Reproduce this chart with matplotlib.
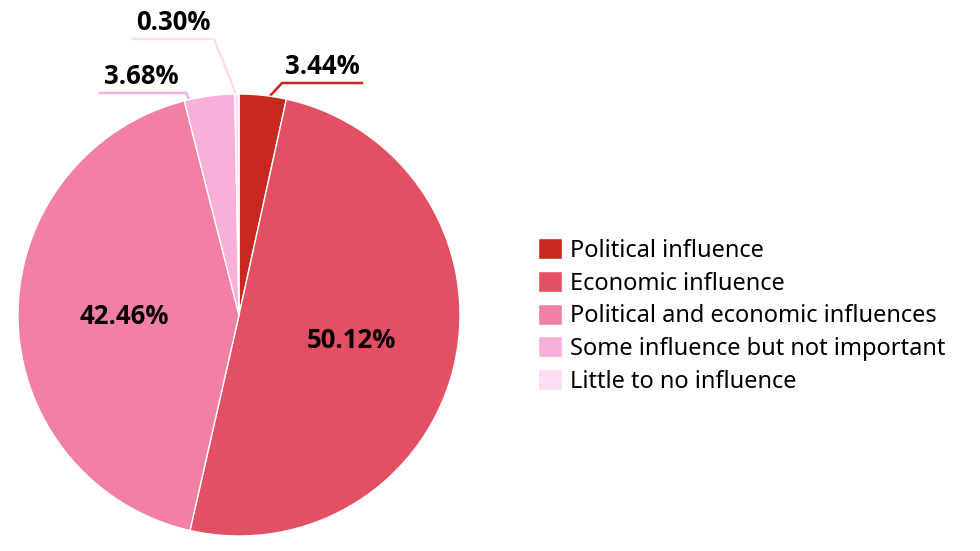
import matplotlib
matplotlib.use("Agg")
import matplotlib.pyplot as plt
import numpy as np

plt.rcParams['font.family'] = ['Open Sans', 'DejaVu Sans']

categories = ["Political influence", "Economic influence",
              "Political and economic influences",
              "Some influence but not important", "Little to no influence"]
shares = [3.44, 50.12, 42.46, 3.68, 0.30]
colors = ["#c8281f", "#e35064", "#f27fa4", "#f8afd9", "#fcdcf6"]

W, H = 980, 551
fig = plt.figure(figsize=(W / 100, H / 100), dpi=100)

# pie centre (239, 315) px, radius 221 px
cx, cy, r = 239, 315, 221
ax = fig.add_axes([(cx - r) / W, (H - cy - r) / H, 2 * r / W, 2 * r / H])
wedges, _ = ax.pie(shares, colors=colors, startangle=90, counterclock=False,
                   radius=1, wedgeprops=dict(edgecolor="white", linewidth=1))
ax.set_xlim(-1, 1)
ax.set_ylim(-1, 1)
ax.axis("off")


def px(x, y):
    # pixel position -> pie units
    return (x - cx) / r, (cy - y) / r


def mid_angle(w):
    return np.deg2rad((w.theta1 + w.theta2) / 2)


# labels inside the two big slices
for i in (1, 2):
    a = mid_angle(wedges[i])
    ax.text(0.52 * np.cos(a), 0.52 * np.sin(a), f"{shares[i]:.2f}%",
            ha="center", va="center", fontsize=18.5, fontweight="bold", color="black")

# outside labels: (start x px on rim, elbow px, line end x px, text centre x px)
outside = {0: (268, (282, 83), 362, 322),
           3: (190, (186, 93), 100, 141),
           4: (237, (214, 39), 133, 173)}
for i, (sxp, elbow, xend, xt) in outside.items():
    sx, _ = px(sxp, 0)
    sy = 0.99 * np.sqrt(1 - sx ** 2)
    ex, ey = px(*elbow)
    fx, _ = px(xend, elbow[1])
    ax.plot([sx, ex, fx], [sy, ey, ey], color=colors[i], lw=1.8,
            solid_joinstyle="miter", clip_on=False, zorder=0)
    tx, _ = px(xt, 0)
    ax.text(tx, ey + 0.015, f"{shares[i]:.2f}%", ha="center", va="bottom",
            fontsize=18.5, fontweight="bold", color="black")

fig.legend(wedges, categories, loc="center left",
           bbox_to_anchor=(517 / W, (H - 316) / H), frameon=False,
           handlelength=1.0, handleheight=1.0,
           handletextpad=0.35, labelspacing=0.34,
           prop={"family": ["Noto Sans", "DejaVu Sans"], "size": 17})

fig.savefig("out.png", dpi=100, facecolor="white")
